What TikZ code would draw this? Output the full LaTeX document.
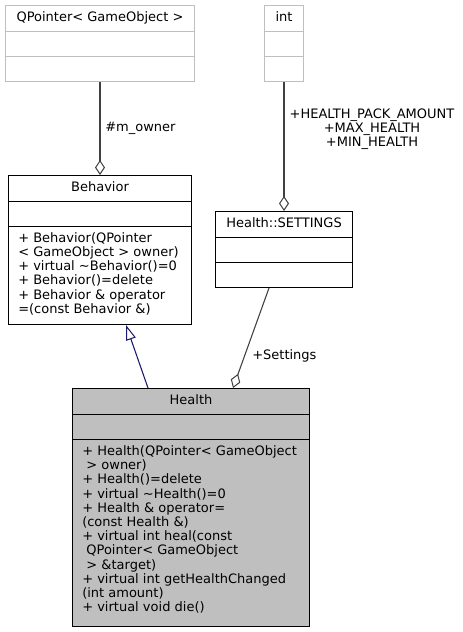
\documentclass[tikz,border=0pt]{standalone}
\usepackage{fontspec}
\setmainfont{DejaVu Sans}
\usetikzlibrary{arrows.meta,calc}
\definecolor{edgegray}{HTML}{404040}
\definecolor{lightborder}{HTML}{BFBFBF}
\definecolor{healthfill}{HTML}{BFBFBF}
\definecolor{inhblue}{HTML}{191970}
\begin{document}
\begin{tikzpicture}[x=0.75pt,y=-0.75pt,
  txt/.style={font=\fontsize{9.75}{10.65}\selectfont, inner sep=0pt},
  hdr/.style={txt, anchor=base},
  mth/.style={txt, anchor=base west, align=left},
  lbl/.style={txt, anchor=base},
  classbox/.style={draw=black, line width=0.75pt, anchor=north west, inner sep=0pt},
  ghostbox/.style={classbox, draw=lightborder},
  divider/.style={line width=0.75pt},
  agg/.style={draw=edgegray, line width=0.8pt, -{Diamond[open, length=11.25pt, width=7.5pt, line width=0.75pt]}},
  inh/.style={draw=inhblue, line width=0.8pt, -{Triangle[open, length=11.25pt, width=7.5pt, line width=0.75pt]}}
]
\useasboundingbox[fill=white] (0,0) rectangle (463,632);

% QPointer< GameObject >
\node[ghostbox, minimum width={189*0.75pt}, minimum height={76*0.75pt}] (qp) at (5,5) {};
\node[hdr] (qph) at ($(qp.north)+(0,16)$) {QPointer< GameObject >};
\draw[divider, lightborder] ($(qp.north west)+(0,26)$) -- ($(qp.north east)+(0,26)$);
\draw[divider, lightborder] ($(qp.north west)+(0,51)$) -- ($(qp.north east)+(0,51)$);

% int
\node[ghostbox, minimum width={39*0.75pt}, minimum height={76*0.75pt}] (int) at (264,5) {};
\node[hdr] (inth) at ($(int.north)+(0,16)$) {int};
\draw[divider, lightborder] ($(int.north west)+(0,26)$) -- ($(int.north east)+(0,26)$);
\draw[divider, lightborder] ($(int.north west)+(0,51)$) -- ($(int.north east)+(0,51)$);

% Behavior
\node[classbox, minimum width={183*0.75pt}, minimum height={149*0.75pt}] (beh) at (8,175) {};
\node[hdr] (behh) at ($(beh.north)+(0,16)$) {Behavior};
\draw[divider] ($(beh.north west)+(0,26)$) -- ($(beh.north east)+(0,26)$);
\draw[divider] ($(beh.north west)+(0,51)$) -- ($(beh.north east)+(0,51)$);
\node[mth] (behm) at (18,313.3) {+ Behavior(QPointer\\< GameObject > owner)\\+ virtual \textasciitilde Behavior()=0\\+ Behavior()=delete\\+ Behavior \& operator\\=(const Behavior \&)};

% Health::SETTINGS
\node[classbox, minimum width={137*0.75pt}, minimum height={76*0.75pt}] (set) at (215,211) {};
\node[hdr] (seth) at ($(set.north)+(0,16)$) {Health::SETTINGS};
\draw[divider] ($(set.north west)+(0,26)$) -- ($(set.north east)+(0,26)$);
\draw[divider] ($(set.north west)+(0,51)$) -- ($(set.north east)+(0,51)$);

% Health
\node[classbox, fill=healthfill, minimum width={237*0.75pt}, minimum height={238*0.75pt}] (hl) at (72,388) {};
\node[hdr] (hlh) at ($(hl.north)+(0,16)$) {Health};
\draw[divider] ($(hl.north west)+(0,26)$) -- ($(hl.north east)+(0,26)$);
\draw[divider] ($(hl.north west)+(0,51)$) -- ($(hl.north east)+(0,51)$);
\node[mth] (hlm) at (82,611.7) {+ Health(QPointer< GameObject\\\mbox{\ }> owner)\\+ Health()=delete\\+ virtual \textasciitilde Health()=0\\+ Health \& operator=\\(const Health \&)\\+ virtual int heal(const\\\mbox{\ }QPointer< GameObject\\\mbox{\ }> \&target)\\+ virtual int getHealthChanged\\(int amount)\\+ virtual void die()};

% connectors
\draw[agg] (qp.south) -- (beh.north);
\node[txt, anchor=base west] (lowner) at (105,131.5) {\#m\_owner};

\draw[agg] (int.south) -- (set.north);
\node[txt, anchor=base, align=center] (lint) at (372,146.5) {+HEALTH\_PACK\_AMOUNT\\+MAX\_HEALTH\\+MIN\_HEALTH};

\coordinate (setfrom) at ($(set.south west)+(54,0)$);
\coordinate (setto) at ($(hl.north west)+(161,0)$);
\draw[agg] (setfrom) -- (setto);
\node[txt, anchor=base west] (lset) at (252,359) {+Settings};

\coordinate (inhfrom) at ($(hl.north west)+(76,0)$);
\coordinate (inhto) at ($(beh.south west)+(118,0)$);
\draw[inh] (inhfrom) -- (inhto);
\end{tikzpicture}
\end{document}
